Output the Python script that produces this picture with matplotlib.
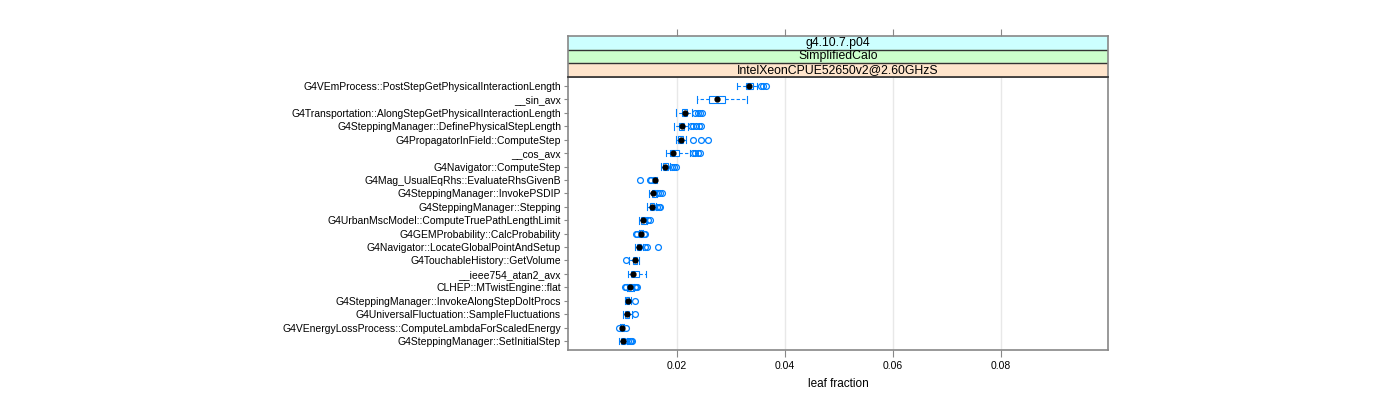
import numpy as np
import matplotlib
matplotlib.use("Agg")
import matplotlib.pyplot as plt

plt.rcParams['font.family'] = ['Liberation Sans', 'DejaVu Sans']

labels = [
    "G4VEmProcess::PostStepGetPhysicalInteractionLength",
    "__sin_avx",
    "G4Transportation::AlongStepGetPhysicalInteractionLength",
    "G4SteppingManager::DefinePhysicalStepLength",
    "G4PropagatorInField::ComputeStep",
    "__cos_avx",
    "G4Navigator::ComputeStep",
    "G4Mag_UsualEqRhs::EvaluateRhsGivenB",
    "G4SteppingManager::InvokePSDIP",
    "G4SteppingManager::Stepping",
    "G4UrbanMscModel::ComputeTruePathLengthLimit",
    "G4GEMProbability::CalcProbability",
    "G4Navigator::LocateGlobalPointAndSetup",
    "G4TouchableHistory::GetVolume",
    "__ieee754_atan2_avx",
    "CLHEP::MTwistEngine::flat",
    "G4SteppingManager::InvokeAlongStepDoItProcs",
    "G4UniversalFluctuation::SampleFluctuations",
    "G4VEnergyLossProcess::ComputeLambdaForScaledEnergy",
    "G4SteppingManager::SetInitialStep",
]

lo_whisker = [0.0311, 0.0237, 0.0198, 0.0194, 0.0198, 0.0180, 0.0170, 0.0155, 0.0148, 0.0144,
              0.0130, 0.0129, 0.0122, 0.0111, 0.0109, 0.0108, 0.0104, 0.0100, 0.0095, 0.0093]
q1 = [0.0328, 0.0259, 0.0209, 0.0204, 0.0202, 0.0187, 0.0174, 0.0157, 0.0154, 0.0150,
      0.0133, 0.0132, 0.0126, 0.0119, 0.0115, 0.0110, 0.0106, 0.0104, 0.0097, 0.0096]
median = [0.0334, 0.0274, 0.0215, 0.0209, 0.0207, 0.0193, 0.0178, 0.0159, 0.0156, 0.0154,
          0.0137, 0.0133, 0.0130, 0.0122, 0.0118, 0.0113, 0.0109, 0.0107, 0.0098, 0.0100]
q3 = [0.0341, 0.0289, 0.0219, 0.0213, 0.0211, 0.0204, 0.0183, 0.0161, 0.0161, 0.0158,
      0.0143, 0.0135, 0.0133, 0.0126, 0.0130, 0.0118, 0.0111, 0.0111, 0.0100, 0.0103]
hi_whisker = [0.0348, 0.0330, 0.0228, 0.0220, 0.0217, 0.0224, 0.0186, 0.0163, 0.0163, 0.0161,
              0.0144, 0.0137, 0.0137, 0.0130, 0.0143, 0.0121, 0.0115, 0.0117, 0.0102, 0.0107]
outliers = [
    [0.0356, 0.0360, 0.0365],
    [],
    [0.0234, 0.0238, 0.0242, 0.0246],
    [0.0226, 0.0230, 0.0235, 0.0240, 0.0245],
    [0.0230, 0.0244, 0.0257],
    [0.0230, 0.0234, 0.0238, 0.0242],
    [0.0190, 0.0194, 0.0198],
    [0.0131, 0.0149, 0.0152],
    [0.0165, 0.0168, 0.0172],
    [0.0163, 0.0166, 0.0169],
    [0.0147, 0.0150],
    [0.0123, 0.0126, 0.0139, 0.0140],
    [0.0141, 0.0145, 0.0165],
    [0.0106],
    [],
    [0.0104, 0.0106, 0.0122, 0.0124, 0.0126],
    [0.0122],
    [0.0122],
    [0.0092, 0.0105],
    [0.0110, 0.0112, 0.0115, 0.0117],
]

strips = ["g4.10.7.p04", "SimplifiedCalo", "IntelXeonCPUE52650v2@2.60GHzS"]
strip_colors = ["#ccffff", "#ccffcc", "#ffe5cc"]
xticks = [0.02, 0.04, 0.06, 0.08]

blue = "#0080ff"
frame = "#888888"
xlim = (-0.0002, 0.0998)

fig = plt.figure(figsize=(14, 4), dpi=100)
W, H = 1400, 400
ax = fig.add_axes([568 / W, 1 - 350 / H, 540 / W, 273 / H])

n = len(labels)
pos = np.arange(1, n + 1)
stats = []
for i in range(n):
    stats.append(dict(whislo=lo_whisker[i], q1=q1[i], med=median[i], q3=q3[i],
                      whishi=hi_whisker[i], fliers=outliers[i]))

for t in xticks:
    ax.axvline(t, color="#e8e8e8", lw=1, zorder=0)

ax.bxp(stats, positions=pos, orientation="horizontal", widths=0.5, patch_artist=True,
       showcaps=True, capwidths=0.5,
       boxprops=dict(facecolor="white", edgecolor=blue, lw=0.8),
       whiskerprops=dict(color=blue, lw=0.8, linestyle=(0, (3, 2))),
       capprops=dict(color=blue, lw=0.8),
       medianprops=dict(color="none"),
       flierprops=dict(marker="o", markersize=4.2, markerfacecolor="none",
                       markeredgecolor=blue, markeredgewidth=0.9))
ax.scatter(median, pos, s=12, color="black", zorder=5)

ax.set_xlim(*xlim)
ax.set_ylim(n + 0.67, 0.33)
ax.set_yticks(pos)
ax.set_yticklabels(labels, fontsize=7.5)
ax.set_xticks(xticks)
ax.set_xticklabels([f"{t:.2f}" for t in xticks], fontsize=7.5)
ax.tick_params(axis="x", length=5, color=frame, pad=3)
ax.tick_params(axis="y", length=3, color=frame, pad=2)
for s in ax.spines.values():
    s.set_color(frame)
    s.set_linewidth(1.2)
ax.set_xlabel("leaf fraction", fontsize=8.5, labelpad=5)

# strips
sax = fig.add_axes([568 / W, 1 - 77 / H, 540 / W, 41 / H])
sax.set_xlim(*xlim)
sax.set_ylim(0, 3)
for k, (txt, col) in enumerate(zip(strips, strip_colors)):
    y0 = 2 - k
    sax.axhspan(y0, y0 + 1, color=col, zorder=0)
    sax.axhline(y0, color="#333333", lw=1, zorder=2)
    sax.text(np.mean(xlim), y0 + 0.5, txt, ha="center", va="center", fontsize=8.8)
sax.set_yticks([])
sax.set_xticks(xticks)
sax.tick_params(axis="x", top=True, bottom=False, labeltop=False, labelbottom=False,
                length=5, color=frame)
for s in sax.spines.values():
    s.set_color(frame)
    s.set_linewidth(1.2)
sax.spines["bottom"].set_color("#333333")

fig.savefig("out.png", dpi=100)
